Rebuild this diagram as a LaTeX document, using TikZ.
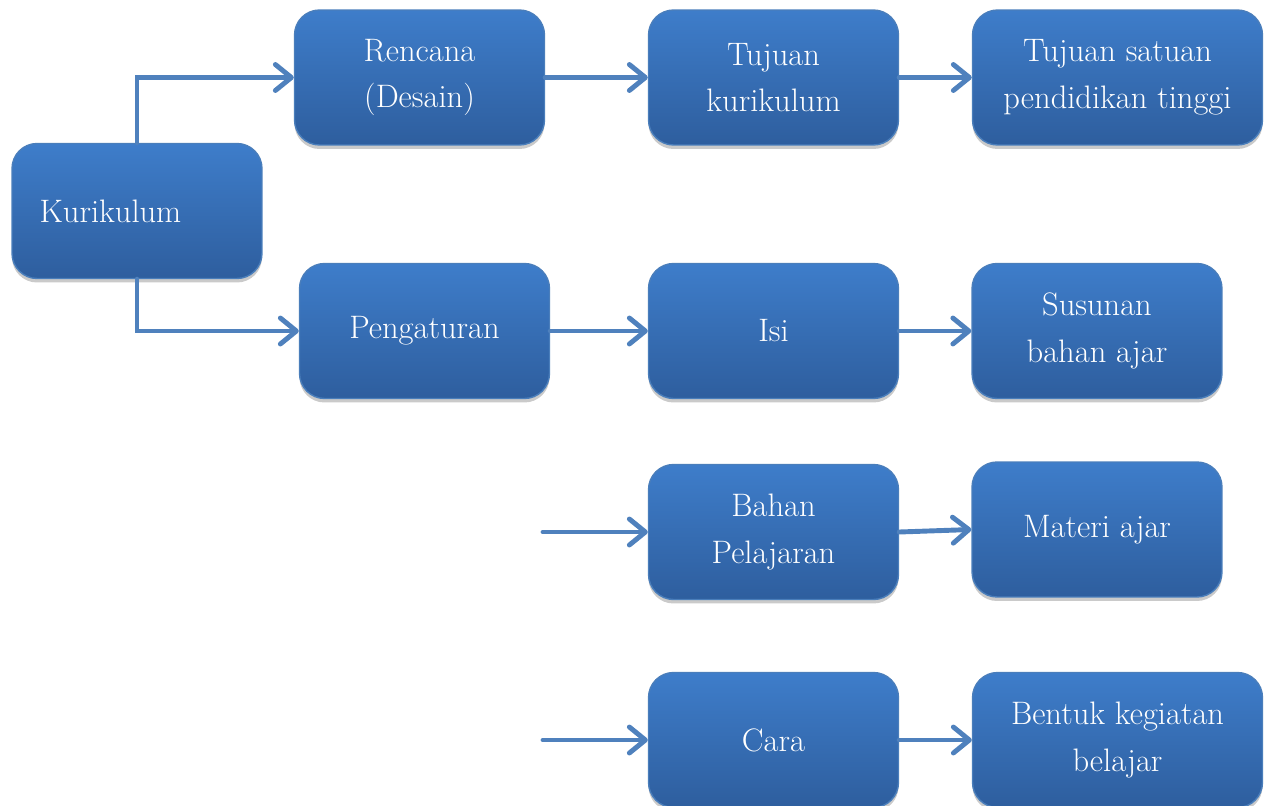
\documentclass[tikz,border=0pt]{standalone}
\usepackage{tikz}
\usetikzlibrary{positioning,shadows,arrows.meta}
\definecolor{kotakatas}{HTML}{3E7DCA}
\definecolor{kotakbawah}{HTML}{2E5E9E}
\definecolor{garis}{HTML}{4A7EBB}
\definecolor{panahbiru}{HTML}{4F81BD}

\begin{document}
\begin{tikzpicture}[x=0.02cm, y=-0.02cm,
    blok/.style={rectangle, rounded corners=0.5cm, draw=garis, line width=0.8pt,
      top color=kotakatas, bottom color=kotakbawah, text=white,
      minimum width=5cm, minimum height=2.7cm, align=center,
      font=\fontsize{18.5}{26.5}\selectfont,
      drop shadow={shadow xshift=0pt, shadow yshift=-0.08cm, opacity=0.35, fill=black!60}},
    lebar/.style={minimum width=5.8cm},
    panah/.style={draw=panahbiru, line width=2.8pt, line cap=round,
      -{Straight Barb[length=0.32cm, width=0.52cm, line cap=round, line join=round]}}]

      \useasboundingbox (0,0) rectangle (1270,805);

      % Kotak
      \node[blok, align=left, text width=3.9cm] (kur) at (137,211) {Kurikulum};
      \node[blok] (rencana) at (419.5,77.5) {Rencana\\(Desain)};
      \node[blok] (tujuan) at (773.5,77.5) {Tujuan\\kurikulum};
      \node[blok, lebar] (satuan) at (1117.5,77.5) {Tujuan satuan\\pendidikan tinggi};
      \node[blok] (atur) at (424.5,331) {Pengaturan};
      \node[blok] (isi) at (773.5,331) {Isi};
      \node[blok] (susunan) at (1097,331) {Susunan\\bahan ajar};
      \node[blok] (bahan) at (773.5,532) {Bahan\\Pelajaran};
      \node[blok] (materi) at (1097,529.5) {Materi ajar};
      \node[blok] (cara) at (773.5,740) {Cara};
      \node[blok, lebar] (bentuk) at (1117.5,740) {Bentuk kegiatan\\belajar};

      % Ujung bebas
      \coordinate (masuk1) at (543,532);
      \coordinate (masuk2) at (543,740);

      % Panah
      \draw[panah] (kur.north) |- (rencana.west);
      \draw[panah] (kur.south) |- (atur.west);
      \draw[panah] (rencana) -- (tujuan);
      \draw[panah] (tujuan) -- (satuan);
      \draw[panah] (atur) -- (isi);
      \draw[panah] (isi) -- (susunan);
      \draw[panah] (masuk1) -- (bahan.west);
      \draw[panah] (bahan.east) -- (materi.west);
      \draw[panah] (masuk2) -- (cara.west);
      \draw[panah] (cara) -- (bentuk);

\end{tikzpicture}
\end{document}
